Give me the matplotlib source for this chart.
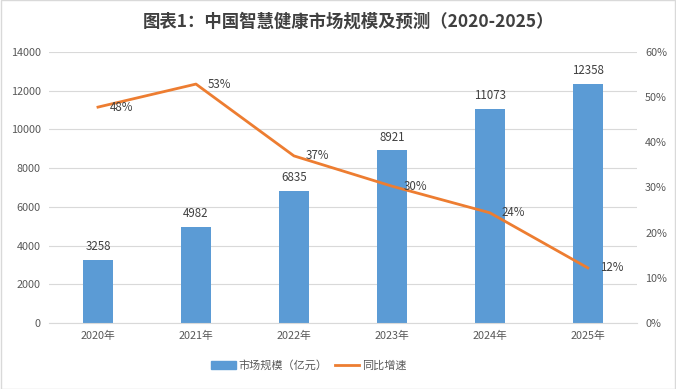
import matplotlib
matplotlib.use('Agg')
from matplotlib import pyplot as plt
from matplotlib.patches import Rectangle

plt.rcParams['font.family'] = ['Noto Sans CJK SC', 'DejaVu Sans']

years = ['2020年', '2021年', '2022年', '2023年', '2024年', '2025年']
market = [3258, 4982, 6835, 8921, 11073, 12358]
growth = [47.8, 52.9, 37.0, 30.3, 24.4, 12.2]
growth_labels = ['48%', '53%', '37%', '30%', '24%', '12%']

blue = '#5B9BD5'
orange = '#ED7D31'
txt = '#595959'

fig = plt.figure(figsize=(6.76, 3.89), dpi=100)
ax = fig.add_axes([0.0725, 0.1697, 0.8695, 0.6966])
x = range(len(years))

ax.bar(x, market, width=0.31, color=blue, zorder=2)
for i, v in enumerate(market):
    ax.text(i, v + 350, str(v), ha='center', va='bottom', fontsize=8.3, color='#404040')

ax.set_ylim(0, 14000)
ax.set_yticks(range(0, 14001, 2000))
ax.set_xlim(-0.5, 5.5)
ax.set_xticks(list(x))
ax.set_xticklabels(years)
ax.grid(axis='y', color='#d9d9d9', lw=0.8, zorder=0)
for s in ['top', 'right', 'left']:
    ax.spines[s].set_visible(False)
ax.spines['bottom'].set_color('#d9d9d9')
ax.tick_params(length=0, labelsize=7.8, colors=txt, pad=6)

ax2 = ax.twinx()
ax2.plot(x, growth, color=orange, lw=2, zorder=3)
for i, (g, lab) in enumerate(zip(growth, growth_labels)):
    ax2.text(i + 0.12, g, lab, ha='left', va='center', fontsize=8.3, color='#404040')
ax2.set_ylim(0, 60)
ax2.set_yticks(range(0, 61, 10))
ax2.set_yticklabels([f'{t}%' for t in range(0, 61, 10)])
for s in ax2.spines.values():
    s.set_visible(False)
ax2.tick_params(length=0, labelsize=7.8, colors=txt, pad=6)

fig.text(0.515, 0.945, '图表1：中国智慧健康市场规模及预测（2020-2025）', ha='center', va='center',
         fontsize=12.5, fontweight='bold', color='#404040')

h1 = Rectangle((0, 0), 1, 1, color=blue)
h2 = plt.Line2D([0], [0], color=orange, lw=2)
fig.legend([h1, h2], ['市场规模（亿元）', '同比增速'], loc='center', bbox_to_anchor=(0.457, 0.06),
           ncol=2, frameon=False, fontsize=8, handlelength=2.2, columnspacing=0.6,
           handletextpad=0.3, labelcolor=txt)

fig.patches.append(Rectangle((0.001, 0.001), 0.998, 0.998, transform=fig.transFigure,
                             fill=False, edgecolor='#d9d9d9', lw=1))

fig.savefig('out.png', dpi=100, facecolor='white')
plt.close()
